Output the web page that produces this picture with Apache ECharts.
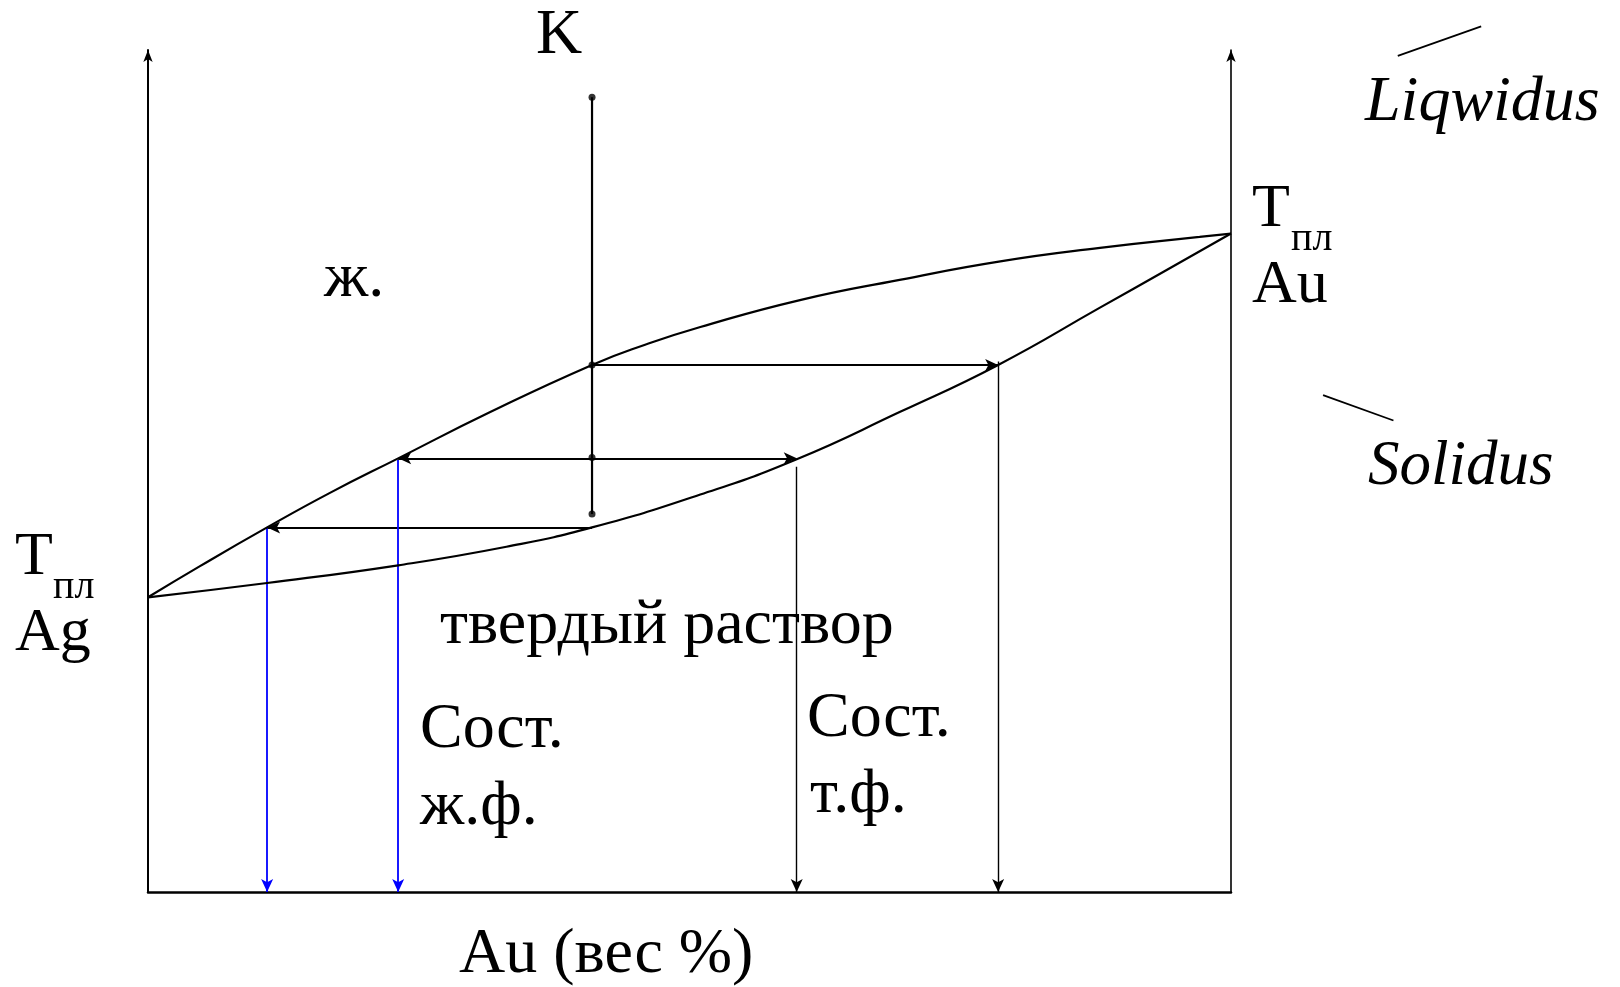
<!DOCTYPE html>
<html>
<head>
<meta charset="utf-8">
<title>Ag - Au</title>
<script src="https://cdn.jsdelivr.net/npm/echarts@6/dist/echarts.min.js"></script>
<style>
html, body { margin: 0; padding: 0; background: #fff; }
#main { width: 1620px; height: 987px; }
</style>
</head>
<body>
<div id="main"></div>
<script>
// Au, wt% (0..100) and temperature in arbitrary units (0..100 on the axis)
var liquidusX = [0, 4.8, 11.0, 16.8, 23.1, 31.6, 41.0, 45.9, 51.0, 60.2, 69.4, 78.7, 87.9, 97.1, 100];
var liquidusT = [35.0, 38.7, 43.3, 47.4, 51.5, 57.0, 62.6, 65.0, 67.1, 70.3, 72.7, 74.9, 76.5, 77.8, 78.2];

var solidusX = [0, 11.0, 23.1, 33.1, 41.0, 51.0, 59.9, 69.4, 78.5, 87.9, 94.1, 100];
var solidusT = [35.0, 36.7, 38.8, 41.0, 43.3, 47.2, 51.4, 57.0, 62.6, 69.4, 73.9, 78.2];

// vertical K line (alloy composition) and its marked points
var kX = 41.0;
var kTop = 94.4;
var kBottom = 44.9;
var kDots = [94.4, 62.6, 51.6, 44.9];

// tie lines: level, start x, end x
var tieT = [62.6, 51.5, 43.3];
var tieFrom = [41.0, 23.1, 41.0];
var tieTo = [78.5, 59.9, 11.0];
var tieArrows = [['none', 'arrow'], ['arrow', 'arrow'], ['none', 'arrow']];

// drops to the composition axis
var dropX = [11.0, 23.1, 59.9, 78.5];
var dropTop = [43.3, 51.3, 50.5, 63.0];
var dropColor = ['#0000ff', '#0000ff', '#000', '#000'];

// short leader strokes next to Liqwidus / Solidus
var leaders = [
  [[115.4, 99.3], [123.1, 102.8]],
  [[108.5, 59.0], [115.0, 56.0]]
];

var FONT = '"Liberation Serif", "Times New Roman", serif';

function zip(xs, ys) {
  var out = [];
  for (var i = 0; i < xs.length; i++) out.push([xs[i], ys[i]]);
  return out;
}

// text placed by its baseline
function txt(s, x, base, size, italic) {
  return {
    type: 'text',
    x: x,
    y: base - size * 0.244,
    silent: true,
    style: {
      text: s,
      fontFamily: FONT,
      fontSize: size,
      fontStyle: italic ? 'italic' : 'normal',
      fill: '#000',
      align: 'left',
      verticalAlign: 'middle'
    }
  };
}

var tieData = [];
for (var i = 0; i < tieT.length; i++) {
  tieData.push({
    coords: [[tieFrom[i], tieT[i]], [tieTo[i], tieT[i]]],
    symbol: tieArrows[i]
  });
}

var dropData = [];
for (var j = 0; j < dropX.length; j++) {
  dropData.push({
    coords: [[dropX[j], dropTop[j]], [dropX[j], 0]],
    lineStyle: { color: dropColor[j], width: dropColor[j] === '#000' ? 1.4 : 1.8 }
  });
}

var myChart = echarts.init(document.getElementById('main'));

var option = {
  animation: false,
  backgroundColor: '#fff',
  grid: { left: 148, right: 389, top: 50, bottom: 95 },
  xAxis: {
    type: 'value', min: 0, max: 100,
    axisLine: { show: true, lineStyle: { color: '#000', width: 2.5 } },
    axisTick: { show: false }, axisLabel: { show: false }, splitLine: { show: false }
  },
  yAxis: [{
    type: 'value', min: 0, max: 100, position: 'left',
    axisLine: { show: true, symbol: ['none', 'arrow'], symbolSize: [7, 12], lineStyle: { color: '#000', width: 2 } },
    axisTick: { show: false }, axisLabel: { show: false }, splitLine: { show: false }
  }, {
    type: 'value', min: 0, max: 100, position: 'right',
    axisLine: { show: true, symbol: ['none', 'arrow'], symbolSize: [7, 12], lineStyle: { color: '#000', width: 1.6 } },
    axisTick: { show: false }, axisLabel: { show: false }, splitLine: { show: false }
  }],
  series: [
    {
      name: 'Liquidus', type: 'line', data: zip(liquidusX, liquidusT),
      smooth: 0.5, showSymbol: false, silent: true,
      lineStyle: { color: '#000', width: 2.2 }
    },
    {
      name: 'Solidus', type: 'line', data: zip(solidusX, solidusT),
      smooth: 0.5, showSymbol: false, silent: true,
      lineStyle: { color: '#000', width: 2.2 }
    },
    {
      name: 'K', type: 'line', data: [[kX, kTop], [kX, kBottom]],
      showSymbol: false, silent: true,
      lineStyle: { color: '#000', width: 2.2 }
    },
    {
      name: 'K points', type: 'scatter', silent: true,
      data: kDots.map(function (t) { return [kX, t]; }),
      symbolSize: 7, itemStyle: { color: '#000' }
    },
    {
      name: 'ties', type: 'lines', coordinateSystem: 'cartesian2d', silent: true,
      symbolSize: [[9, 13], [9, 13]],
      lineStyle: { color: '#000', width: 1.9, opacity: 1 },
      data: tieData
    },
    {
      name: 'drops', type: 'lines', coordinateSystem: 'cartesian2d', silent: true,
      symbol: ['none', 'arrow'], symbolSize: [[9, 13], [9, 13]],
      lineStyle: { opacity: 1 },
      data: dropData
    },
    {
      name: 'leaders', type: 'lines', coordinateSystem: 'cartesian2d', silent: true, clip: false,
      symbol: 'none',
      lineStyle: { color: '#000', width: 1.8, opacity: 1 },
      data: leaders.map(function (c) { return { coords: c }; })
    }
  ],
  graphic: [
    txt('K', 536, 52, 64),
    txt('ж.', 324, 295, 64),
    txt('твердый раствор', 440, 642, 64),
    txt('Сост.', 420, 746, 64),
    txt('ж.ф.', 420, 823, 64),
    txt('Сост.', 807, 735, 64),
    txt('т.ф.', 810, 811, 64),
    txt('T', 15, 573, 62),
    txt('пл', 53, 597, 40),
    txt('Ag', 15, 649, 62),
    txt('T', 1252, 225, 62),
    txt('пл', 1291, 249, 40),
    txt('Au', 1252, 301, 62),
    txt('Liqwidus', 1365, 119, 64, true),
    txt('Solidus', 1368, 483, 63, true),
    txt('Au (вес %)', 459, 971, 64)
  ]
};

myChart.setOption(option);
window.addEventListener('resize', function () {
  myChart.resize();
});
</script>
</body>
</html>
